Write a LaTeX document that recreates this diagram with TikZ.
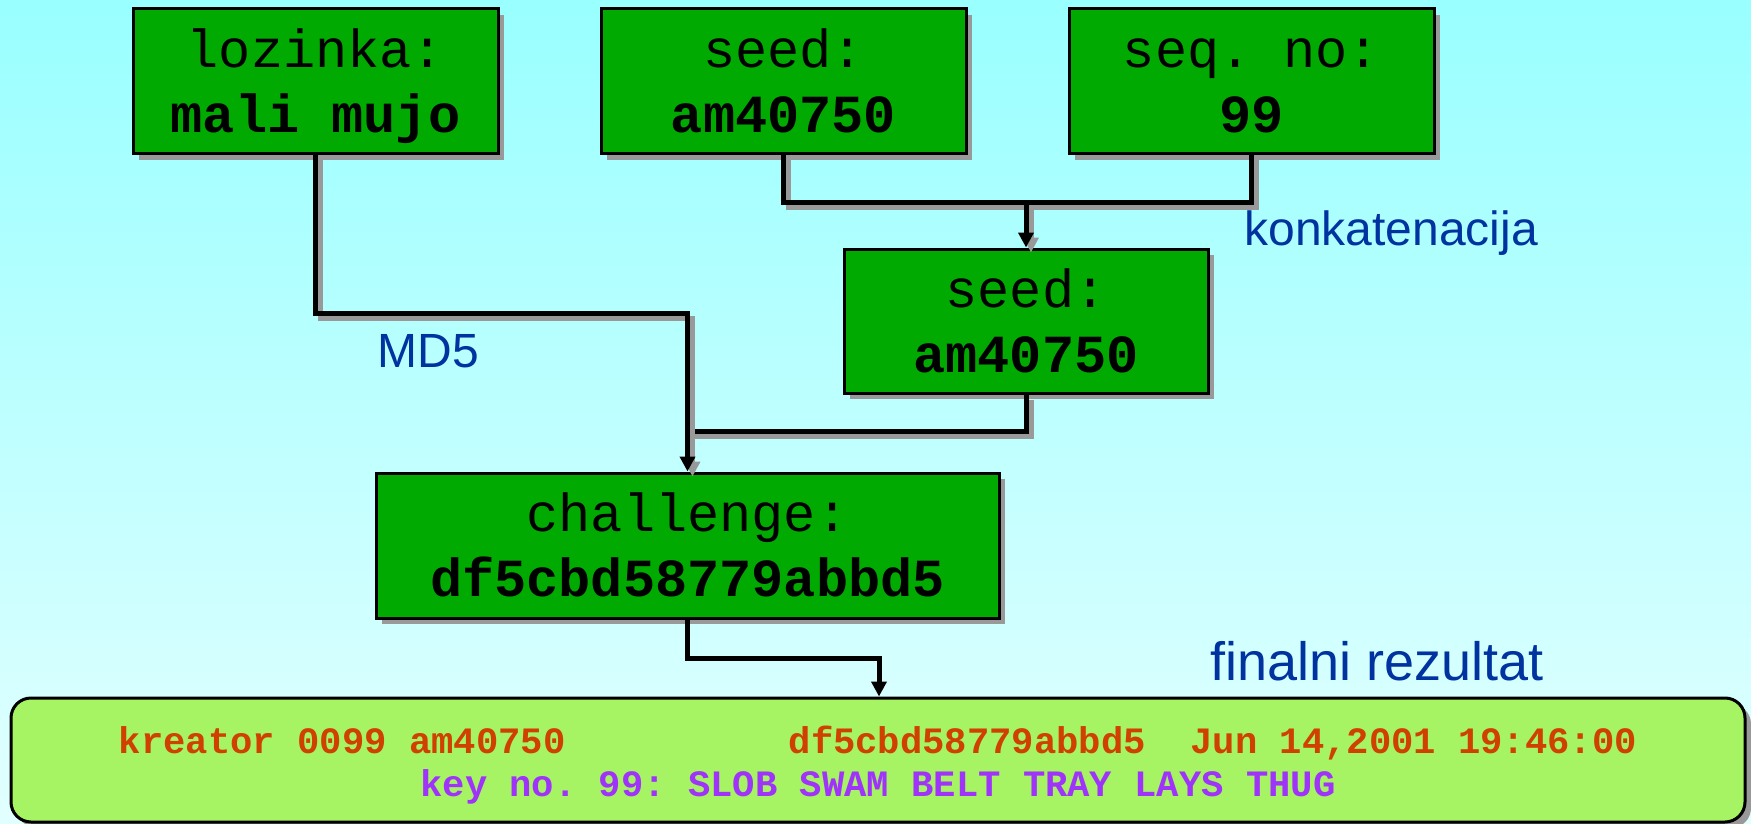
\documentclass[tikz,border=0pt]{standalone}
\usepackage{fontspec}
\setmonofont{Liberation Mono}
\setsansfont{Liberation Sans}
\usetikzlibrary{arrows.meta,shadows}
\definecolor{bgtop}{RGB}{153,255,255}
\definecolor{bgbot}{RGB}{226,255,255}
\definecolor{boxgreen}{RGB}{0,170,0}
\definecolor{lightgreen}{RGB}{166,243,99}
\definecolor{shadowgray}{RGB}{153,153,153}
\definecolor{labelblue}{RGB}{0,51,160}
\definecolor{redtext}{RGB}{208,64,0}
\definecolor{purpletext}{RGB}{160,51,250}
\newcommand{\twolines}[2]{\rule{0pt}{26.5pt}#1\\\textbf{#2}\rule[-8pt]{0pt}{8pt}}
\begin{document}
\begin{tikzpicture}[x=0.5pt,y=-0.5pt,
  greenbox/.style={draw=black, line width=1.5pt, fill=boxgreen,
    minimum height=72.5pt, inner sep=0pt, align=center,
    font=\fontsize{26.8pt}{32.5pt}\selectfont\ttfamily,
    drop shadow={shadow xshift=3pt, shadow yshift=-3pt, fill=shadowgray, opacity=1}},
  finalbox/.style={draw=black, line width=1.5pt, fill=lightgreen, rounded corners=10pt,
    minimum width=867pt, minimum height=62pt, inner sep=0pt, align=center,
    font=\fontsize{18.6pt}{21.5pt}\selectfont\ttfamily\bfseries,
    drop shadow={shadow xshift=3pt, shadow yshift=-3pt, fill=shadowgray, opacity=1}},
  tip/.style={-{Triangle[length=7.5pt,width=7.5pt]}},
  conn/.style={line width=2.5pt, draw=black,
    preaction={draw=shadowgray, line width=2.5pt, transform canvas={xshift=2.5pt, yshift=-2.5pt}}},
  conntip/.style={line width=2.5pt, draw=black, tip,
    preaction={draw=shadowgray, line width=2.5pt, tip, transform canvas={xshift=2.5pt, yshift=-2.5pt}}},
  plainconn/.style={line width=2.5pt, draw=black, tip},
  lbl/.style={font=\fontsize{24pt}{28pt}\selectfont\sffamily, text=labelblue, inner sep=0pt, anchor=base west}
]
\useasboundingbox (0,0) rectangle (1751,824);
\shade[top color=bgtop, bottom color=bgbot] (0,0) rectangle (1751,824);

\node[greenbox, minimum width=182.5pt] (loz) at (315.5,81.5) {\twolines{lozinka:}{mali mujo}};
\node[greenbox, minimum width=182.5pt] (seed) at (783.5,81.5) {\twolines{seed:}{am40750}};
\node[greenbox, minimum width=182.5pt] (seq) at (1251.5,81.5) {\twolines{seq. no:}{99}};
\node[greenbox, minimum width=182pt, minimum height=72pt] (mid) at (1026,321) {\twolines{seed:}{am40750}};
\node[greenbox, minimum width=311.5pt] (chal) at (687.5,545.5) {\twolines{challenge:}{df5cbd58779abbd5}};
\node[finalbox] (final) at (878,760) {\rule{0pt}{19pt}\textcolor{redtext}{kreator 0099 am40750\phantom{XXXXXXXXXX}df5cbd58779abbd5\phantom{XX}Jun 14,2001 19:46:00}\\
  \textcolor{purpletext}{key no. 99: SLOB SWAM BELT TRAY LAYS THUG}\rule[-3.5pt]{0pt}{3.5pt}};

\coordinate (cat) at (1026,202);
\coordinate (md5) at (687.5,313);
\coordinate (join) at (687.5,431);
\coordinate (fin) at (879,658);

\draw[conn] (seed.south) |- (cat) -| (seq.south);
\draw[conntip] (cat) -- (mid.north);
\draw[conn] (mid.south) |- (join);
\draw[conntip] (loz.south) |- (md5) -- (chal.north);
\draw[plainconn] (chal.south) |- (fin) -- (fin |- final.north);

\node[lbl] (lcat) at (1244,245) {konkatenacija};
\node[lbl] (lmd5) at (377,367) {MD5};
\node[lbl, font=\fontsize{27pt}{31pt}\selectfont\sffamily] (lfin) at (1210,680) {finalni rezultat};
\end{tikzpicture}
\end{document}
